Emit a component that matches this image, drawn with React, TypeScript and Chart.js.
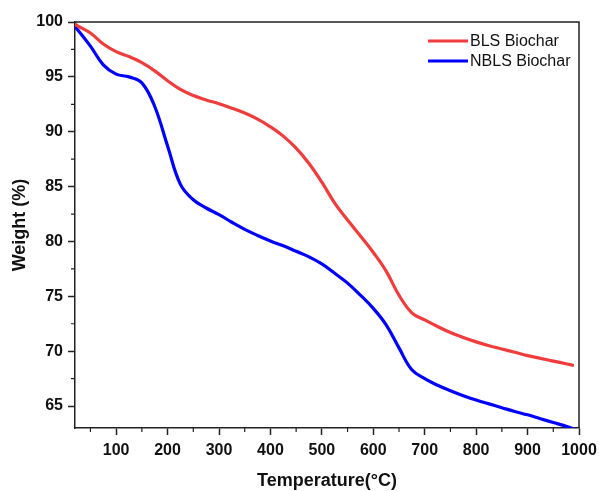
import React, { useEffect, useRef } from "react";
import { Chart, registerables } from "chart.js";

Chart.register(...registerables);

const temperatures = [20, 25, 50, 75, 100, 125, 150, 175, 200, 225, 250, 275, 300, 325, 350, 375, 400, 425, 450, 475, 500, 525, 550, 575, 600, 625, 650, 675, 700, 725, 750, 775, 800, 825, 850, 875, 900, 925, 950, 975, 990];
const blsWeight = [99.85, 99.65, 99.0, 98.0, 97.3, 96.85, 96.3, 95.55, 94.65, 93.85, 93.3, 92.9, 92.55, 92.15, 91.7, 91.15, 90.45, 89.6, 88.5, 87.1, 85.4, 83.5, 81.95, 80.5, 79.0, 77.3, 75.1, 73.5, 72.85, 72.25, 71.7, 71.25, 70.85, 70.5, 70.2, 69.9, 69.6, 69.35, 69.1, 68.85, 68.7];
const nblsWeight = [99.55, 99.3, 97.8, 96.1, 95.25, 95.0, 94.45, 92.3, 88.7, 85.2, 83.8, 83.05, 82.45, 81.75, 81.1, 80.55, 80.05, 79.6, 79.1, 78.6, 77.95, 77.1, 76.2, 75.1, 73.9, 72.4, 70.3, 68.3, 67.5, 66.9, 66.4, 65.95, 65.55, 65.2, 64.85, 64.5, 64.2, 63.85, 63.5, 63.15, 62.9];
const seriesNames = ["BLS Biochar", "NBLS Biochar"];
const xTicks = [100, 200, 300, 400, 500, 600, 700, 800, 900, 1000];
const xMinorTicks = [50, 150, 250, 350, 450, 550, 650, 750, 850, 950];
const yTicks = [65, 70, 75, 80, 85, 90, 95, 100];
const yMinorTicks = [67.5, 72.5, 77.5, 82.5, 87.5, 92.5, 97.5];

const RED = "#f03c3c";
const BLUE = "#0000ff";
const AXIS = "#222222";
const FONT = "'Liberation Sans', Arial, sans-serif";

const framePlugin = {
  id: "frame",
  afterDraw(chart: any) {
    const { ctx, chartArea, scales } = chart;
    const { left, right, top, bottom } = chartArea;
    ctx.save();
    ctx.strokeStyle = AXIS;
    ctx.lineWidth = 1.5;
    ctx.beginPath();
    ctx.moveTo(left, top);
    ctx.lineTo(right, top);
    ctx.lineTo(right, bottom);
    ctx.stroke();
    ctx.lineWidth = 1.2;
    ctx.beginPath();
    xMinorTicks.forEach((v) => {
      const x = scales.x.getPixelForValue(v);
      ctx.moveTo(x, bottom);
      ctx.lineTo(x, bottom + 4);
    });
    yMinorTicks.forEach((v) => {
      const y = scales.y.getPixelForValue(v);
      ctx.moveTo(left, y);
      ctx.lineTo(left - 4, y);
    });
    ctx.stroke();
    const colors = [RED, BLUE];
    ctx.font = `16px ${FONT}`;
    ctx.textBaseline = "middle";
    ctx.textAlign = "left";
    seriesNames.forEach((name, i) => {
      const y = 41 + i * 20;
      ctx.strokeStyle = colors[i];
      ctx.lineWidth = 3;
      ctx.beginPath();
      ctx.moveTo(428, y);
      ctx.lineTo(468, y);
      ctx.stroke();
      ctx.fillStyle = "#111";
      ctx.fillText(name, 470, y + 1);
    });
    ctx.restore();
  },
};

export default function App() {
  const ref = useRef<HTMLCanvasElement | null>(null);
  useEffect(() => {
    if (!ref.current) return;
    const mk = (ys: number[]) => temperatures.map((t, i) => ({ x: t, y: ys[i] }));
    const chart = new Chart(ref.current, {
      type: "line",
      data: {
        datasets: [
          { label: seriesNames[0], data: mk(blsWeight), borderColor: RED, borderWidth: 3.2, pointRadius: 0, tension: 0.4, fill: false },
          { label: seriesNames[1], data: mk(nblsWeight), borderColor: BLUE, borderWidth: 3.2, pointRadius: 0, tension: 0.4, fill: false },
        ],
      },
      options: {
        animation: false,
        responsive: false,
        devicePixelRatio: 1,
        layout: { padding: { top: 22, right: 20, left: 0, bottom: 0 } },
        plugins: { legend: { display: false }, tooltip: { enabled: false } },
        scales: {
          x: {
            type: "linear",
            min: 20,
            max: 1000,
            afterBuildTicks: (s: any) => { s.ticks = xTicks.map((v) => ({ value: v })); },
            afterFit: (s: any) => { s.height = 63; s.paddingRight = 0; s.paddingLeft = 0; },
            border: { color: AXIS, width: 1.5 },
            grid: { drawOnChartArea: false, drawTicks: true, tickLength: 7, tickColor: AXIS, tickWidth: 1.5 },
            ticks: { color: "#111", padding: 6, maxRotation: 0, autoSkip: false, callback: (v: any) => String(v), font: { family: FONT, size: 16, weight: "bold" } },
            title: { display: true, text: "Temperature(°C)", color: "#111", padding: { top: 0, bottom: 0 }, font: { family: FONT, size: 18, weight: "bold", lineHeight: 1.1 } },
          },
          y: {
            type: "linear",
            min: 63,
            max: 100,
            afterBuildTicks: (s: any) => { s.ticks = yTicks.map((v) => ({ value: v })); },
            afterFit: (s: any) => { s.width = 75; s.paddingTop = 0; s.paddingBottom = 0; },
            border: { color: AXIS, width: 1.5 },
            grid: { drawOnChartArea: false, drawTicks: true, tickLength: 7, tickColor: AXIS, tickWidth: 1.5 },
            ticks: { color: "#111", padding: 5, autoSkip: false, callback: (v: any) => String(v), font: { family: FONT, size: 16, weight: "bold" } },
            title: { display: true, text: "Weight (%)", color: "#111", padding: { top: 9, bottom: 0 }, font: { family: FONT, size: 18, weight: "bold" } },
          },
        },
      },
      plugins: [framePlugin],
    } as any);
    return () => chart.destroy();
  }, []);
  return (
    <div style={{ position: "fixed", left: 0, top: 0, width: 599, height: 491, background: "#fff" }}>
      <canvas ref={ref} width={599} height={491} style={{ display: "block" }} />
    </div>
  );
}
